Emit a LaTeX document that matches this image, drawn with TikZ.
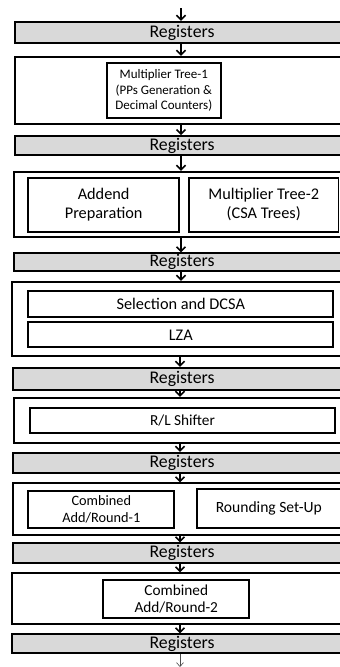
\documentclass[tikz,border=0pt]{standalone}
\usepackage{fontspec}
\setmainfont{Carlito}
\usetikzlibrary{arrows.meta}
\definecolor{reggray}{HTML}{D9D9D9}
\begin{document}
\begin{tikzpicture}[x=1pt,y=-1pt,
  cell/.style args={#1/#2/#3/#4}{minimum width={(#3-#1)*1pt}, minimum height={(#4-#2)*1pt},
    at={({(#1+#3)/2},{(#2+#4)/2})}},
  frame/.style={draw=black, line width=1.7pt, fill=white, inner sep=0pt},
  unit/.style={draw=black, line width=1.7pt, fill=white, inner sep=0pt, align=center,
    font=\fontsize{16.3}{19.3}\selectfont},
  regbox/.style={draw=black, line width=1.7pt, fill=reggray, inner sep=0pt,
    font=\fontsize{17.8}{20}\selectfont},
  flow/.style={line width=1.6pt, -{Straight Barb[length=4.5pt,width=9pt,line width=1.6pt]}},
  outflow/.style={line width=0.6pt, draw=black!70, -{Straight Barb[length=4pt,width=7pt]}}
]
\useasboundingbox (0,0) rectangle (340,667);
\clip (0,0) rectangle (340,667);

% pipeline stages: register banks and stage frames
\node[regbox, cell=14.7/21.7/349.3/43.3] (reg1) {Registers};
\node[frame, cell=14.7/56.7/345/124] (st1) {};
\node[unit, cell=106.7/62.7/221/118.3, font=\fontsize{13}{15.7}\selectfont] (mt1)
  {Multiplier Tree-1\\(PPs Generation \&\\Decimal Counters)};

\node[regbox, cell=14.7/136/349.3/155] (reg2) {Registers};
\node[frame, cell=14/171.7/345/236.7] (st2) {};
\node[unit, cell=28.3/177.7/179/231.7] (add) {Addend\\Preparation};
\node[unit, cell=189/177.7/338.5/231.7] (mt2) {Multiplier Tree-2\\(CSA Trees)};

\node[regbox, cell=14/253.3/350/271] (reg3) {Registers};
\node[frame, cell=12.3/281.7/345/356] (st3) {};
\node[unit, cell=28.3/290.7/333.3/316.7] (sel) {Selection and DCSA};
\node[unit, cell=28.3/322.3/333.3/347.3] (lza) {LZA};

\node[regbox, cell=12.7/367.7/351.3/390] (reg4) {Registers};
\node[frame, cell=14/397.7/345/443.3] (st4) {};
\node[unit, cell=30/407.7/335/433.3, font=\fontsize{15.3}{18}\selectfont] (rl) {R/L Shifter};

\node[regbox, cell=12.7/452.7/351.3/473.3] (reg5) {Registers};
\node[frame, cell=12.7/483.3/345/535] (st5) {};
\node[unit, cell=28.3/491/174.3/528.3, font=\fontsize{14.3}{16.7}\selectfont] (cmb1)
  {Combined\\Add/Round-1};
\node[unit, cell=196.7/489.3/341/528.3, font=\fontsize{15.6}{18}\selectfont] (rnd)
  {Rounding Set-Up};

\node[regbox, cell=12.7/543.3/351.3/563.3] (reg6) {Registers};
\node[frame, cell=11.7/573.3/345/624.3] (st6) {};
\node[unit, cell=103.3/580/249.3/618.3, font=\fontsize{15.3}{16.5}\selectfont] (cmb2)
  {Combined\\Add/Round-2};

\node[regbox, cell=11.7/634.3/352.3/653.3] (reg7) {Registers};

% data flow down the pipeline
\coordinate (src) at (181,8);
\coordinate (sink) at (180,667);
\draw[flow] (src) -- (reg1.north -| src);
\draw[flow] (reg1.south -| src) -- (st1.north -| src);
\draw[flow] (st1.south -| src) -- (reg2.north -| src);
\draw[flow] (reg2.south -| src) -- (st2.north -| src);
\draw[flow] (st2.south -| src) -- (reg3.north -| src);
\draw[flow] (reg3.south -| src) -- (st3.north -| src);
\draw[flow] (st3.south -| sink) -- (reg4.north -| sink);
\draw[flow] (reg4.south -| sink) -- (st4.north -| sink);
\draw[flow] (st4.south -| sink) -- (reg5.north -| sink);
\draw[flow] (reg5.south -| sink) -- (st5.north -| sink);
\draw[flow] (st5.south -| sink) -- (reg6.north -| sink);
\draw[flow] (reg6.south -| sink) -- (st6.north -| sink);
\draw[flow] (st6.south -| sink) -- (reg7.north -| sink);
\draw[outflow] (reg7.south -| sink) -- (sink);
\end{tikzpicture}
\end{document}
